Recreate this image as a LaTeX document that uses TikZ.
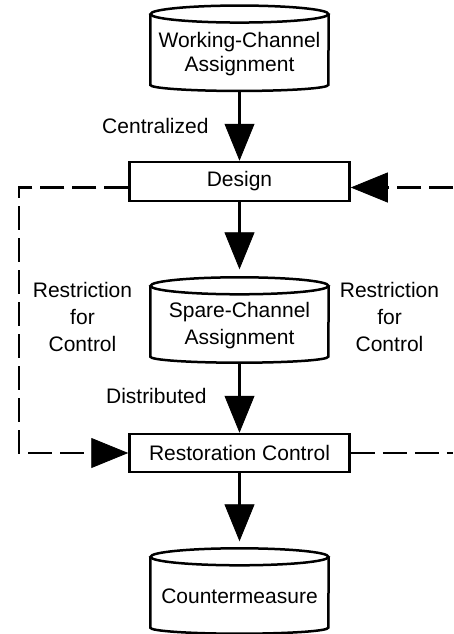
\documentclass[tikz,border=0pt]{standalone}
\usepackage{fontspec}
\setmainfont{Liberation Sans}
\usetikzlibrary{arrows.meta}
\newcommand\mycyl[1]{%
  \draw[line width=2.5pt] ([yshift=8.5pt]#1.north west) -- (#1.south west)
    arc[start angle=180,end angle=360,x radius=89pt,y radius=6pt]
    -- ([yshift=8.5pt]#1.north east);
  \draw[line width=2.5pt] ([yshift=8.5pt]#1.north) ellipse[x radius=89pt, y radius=8.5pt];
}
\begin{document}
\begin{tikzpicture}[x=1pt,y=1pt,
  every node/.style={font=\fontsize{21}{27}\selectfont},
  cyl/.style={minimum width=178pt, minimum height=62pt, inner sep=0pt, align=center},
  boxn/.style={draw, line width=2.5pt, minimum width=220pt, inner sep=0pt},
  tipb/.style={-{Triangle[length=37pt,width=30pt,line width=0.8pt]}},
  arr/.style={line width=2.5pt, tipb},
  dashc/.style={line width=2.5pt, dash pattern=on 24pt off 8pt},
  lab/.style={align=center}]
\useasboundingbox (0,0) rectangle (453,-634);

% nodes
\node[cyl, font=\fontsize{21}{24}\selectfont] (wc) at (239.5,-53.75) {Working-Channel\\Assignment};
\node[boxn, minimum height=39pt] (de) at (239.5,-181.5) {Design};
\node[cyl] (sc) at (239.5,-325.5) {Spare-Channel\\Assignment};
\node[boxn, minimum height=38pt] (re) at (239.5,-453) {Restoration Control};
\node[cyl] (cm) at (239.5,-596.5) {Countermeasure};

\mycyl{wc}
\mycyl{sc}
\mycyl{cm}

% labels
\node[anchor=base east] (cen) at (212,-133) {Centralized};
\node[anchor=base east] (dis) at (210,-403) {Distributed};
\node[lab] (rl) at (82.5,-316.5) {Restriction\\for\\Control};
\node[lab] (rr) at (389.5,-316.5) {Restriction\\for\\Control};

% coordinates for dashed lines
\coordinate (lt) at (19,-187.5);
\coordinate (lb) at (19,-453);
\coordinate (rt) at (453,-187.5);
\coordinate (rb) at (453,-453);

% solid arrows
\draw[arr] ([yshift=-6pt]wc.south) -- (de.north);
\draw[arr, shorten >=25pt] (de.south) -- (sc.north);
\draw[arr] ([yshift=-6pt]sc.south) -- (re.north);
\draw[arr, shorten >=24pt] (re.south) -- (cm.north);

% dashed connectors
\draw[dashc, tipb] ([yshift=-6pt]de.west) -- (lt) -- (lb) -- (re.west);
\draw[dashc, tipb] (rt) -- ([yshift=-6pt]de.east);
\draw[dashc] (re.east) -- (rb);
\end{tikzpicture}
\end{document}
